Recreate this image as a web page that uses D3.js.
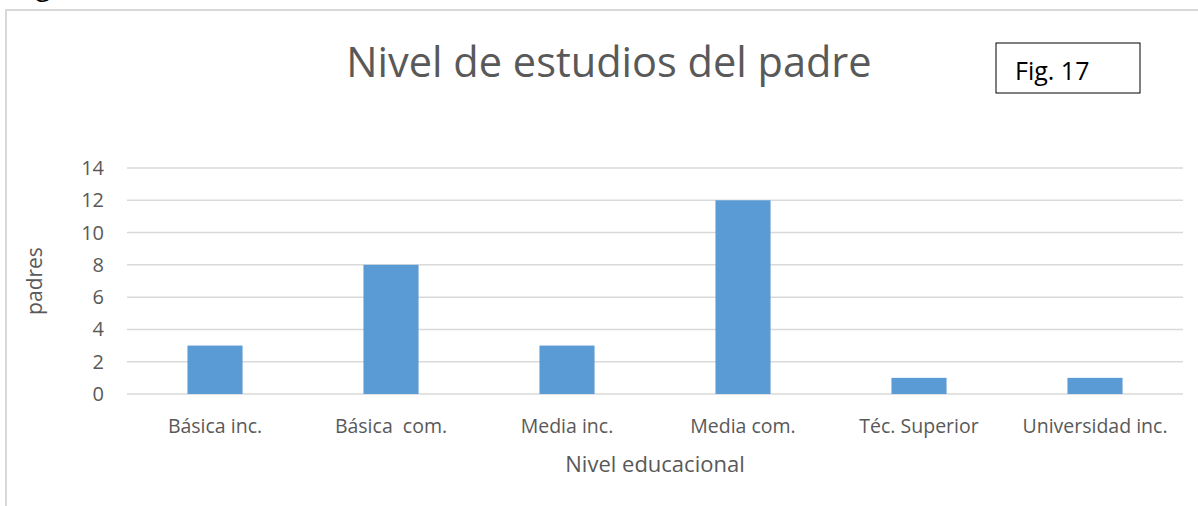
<!DOCTYPE html>
<html>
<head>
<meta charset="utf-8">
<script src="https://cdn.jsdelivr.net/npm/d3@7"></script>
<style>
body { margin:0; background:#fff; }
text { font-family: "Open Sans", "Noto Sans", sans-serif; }
</style>
</head>
<body>
<svg id="chart" width="1198" height="506"></svg>
<script>
var categories = ["Básica inc.", "Básica  com.", "Media inc.", "Media com.", "Téc. Superior", "Universidad inc."]
var values = [3, 8, 3, 12, 1, 1]
var yTicks = [0, 2, 4, 6, 8, 10, 12, 14]

var svg = d3.select("#chart")
var plotL = 127, plotR = 1183, plotT = 168, plotB = 394

// cut off text from above + frame
svg.append("text").text("g").attr("x", 36).attr("y", -4).attr("font-size", "26px").attr("fill", "#000")
svg.append("rect").attr("x", 6).attr("y", 10).attr("width", 1300).attr("height", 600)
    .attr("fill", "none").attr("stroke", "#d9d9d9").attr("stroke-width", 2)

var x = d3.scaleBand().domain(categories).range([plotL, plotR]).paddingInner(0.687).paddingOuter(0.3435)
var y = d3.scaleLinear().domain([0, 14]).range([plotB, plotT])

// gridlines
svg.append("g").selectAll("line").data(yTicks).enter().append("line")
    .attr("x1", plotL).attr("x2", plotR)
    .attr("y1", function(d){ return y(d) }).attr("y2", function(d){ return y(d) })
    .attr("stroke", "#d9d9d9").attr("stroke-width", 1.5)

// y tick labels
svg.append("g").selectAll("text").data(yTicks).enter().append("text")
    .text(function(d){ return d })
    .attr("x", 104).attr("y", function(d){ return y(d) + 7 })
    .attr("text-anchor", "end").attr("font-size", "20px").attr("fill", "#595959")

// bars
svg.append("g").selectAll("rect").data(values).enter().append("rect")
    .attr("x", function(d, i){ return x(categories[i]) })
    .attr("y", function(d){ return y(d) })
    .attr("width", x.bandwidth())
    .attr("height", function(d){ return y(0) - y(d) })
    .attr("fill", "#5b9bd5")

// x labels
svg.append("g").selectAll("text").data(categories).enter().append("text")
    .text(function(d){ return d })
    .attr("x", function(d){ return x(d) + x.bandwidth() / 2 })
    .attr("y", 433)
    .attr("text-anchor", "middle").attr("font-size", "19.5px").attr("fill", "#595959")
    .style("white-space", "pre")

svg.append("text").text("Nivel educacional").attr("x", 655).attr("y", 472)
    .attr("text-anchor", "middle").attr("font-size", "22px").attr("fill", "#595959")

svg.append("text").text("padres").attr("transform", "translate(42,281) rotate(-90)")
    .attr("text-anchor", "middle").attr("font-size", "21px").attr("fill", "#595959")

// title
svg.append("text").text("Nivel de estudios del padre").attr("x", 609).attr("y", 77)
    .attr("text-anchor", "middle").attr("font-size", "41.5px").attr("fill", "#595959")

// fig box
svg.append("rect").attr("x", 996).attr("y", 43).attr("width", 144).attr("height", 50)
    .attr("fill", "#fff").attr("stroke", "#000").attr("stroke-width", 1)
svg.append("text").text("Fig. 17").attr("x", 1015).attr("y", 80)
    .attr("font-size", "25px").attr("fill", "#000")
</script>
</body>
</html>
